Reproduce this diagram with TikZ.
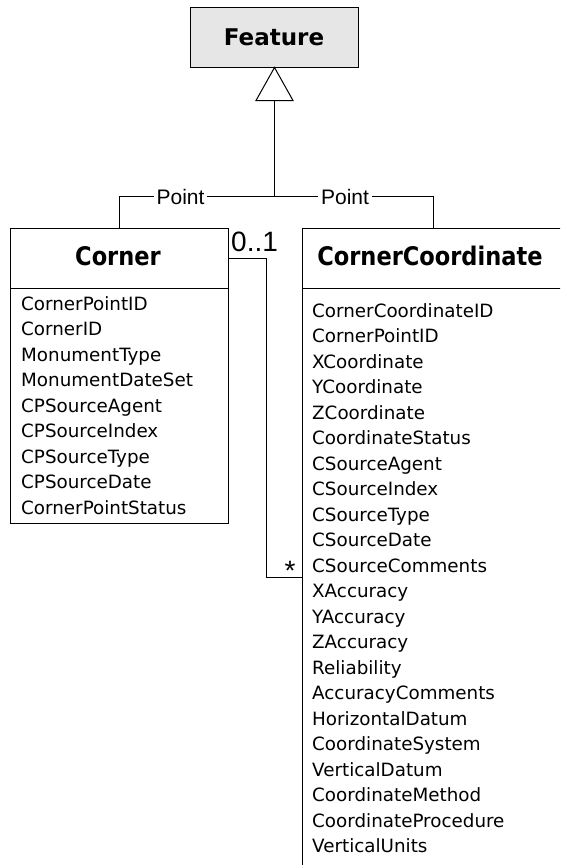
\documentclass[tikz,border=0pt]{standalone}
\usepackage{fontspec}
\setmainfont{DejaVu Sans}
\newfontfamily\titlefont[FakeStretch=0.88]{DejaVu Sans}
\newfontfamily\arialfont{Liberation Sans}
\definecolor{featgray}{HTML}{E6E6E6}
\begin{document}
\begin{tikzpicture}[x=1pt,y=-1pt,
  box/.style={draw=black, line width=1pt, inner sep=0pt, outer sep=0pt, anchor=north west},
  titletext/.style={font=\titlefont\bfseries\fontsize{25.6}{30}\selectfont, anchor=base, inner sep=0pt},
  feattext/.style={font=\bfseries\fontsize{23}{27}\selectfont, anchor=base, inner sep=0pt},
  attr/.style={font=\fontsize{18.3}{22}\selectfont, anchor=base west, inner sep=0pt},
  lbl/.style={font=\arialfont\fontsize{21}{25}\selectfont, fill=white, inner xsep=3pt, inner ysep=1pt, anchor=base},
  mult/.style={font=\arialfont\fontsize{28}{32}\selectfont, anchor=base west, inner sep=0pt},
  conn/.style={draw=black, line width=1pt}]
\useasboundingbox (0,0) rectangle (560,865);
\clip (0,0) rectangle (560,865);

% Feature
\node[box, fill=featgray, minimum width=168pt, minimum height=60pt] (feature) at (190.5,7.5) {};
\node[feattext] (featuret) at (274,45) {Feature};

% Corner
\node[box, minimum width=218pt, minimum height=295pt] (corner) at (10.5,228.5) {};
\draw[conn] ([yshift=-60pt]corner.north west) -- ([yshift=-60pt]corner.north east);
\node[titletext] (cornert) at (118,265) {Corner};
\foreach \t [count=\i] in {CornerPointID,CornerID,MonumentType,MonumentDateSet,CPSourceAgent,CPSourceIndex,CPSourceType,CPSourceDate,CornerPointStatus}
  \node[attr] (ca\i) at (21,{310+25.5*(\i-1)}) {\t};

% CornerCoordinate
\node[box, minimum width=262pt, minimum height=700pt] (cc) at (302.5,228.5) {};
\draw[conn] ([yshift=-60pt]cc.north west) -- ([yshift=-60pt]cc.north east);
\node[titletext] (cct) at (430,265) {CornerCoordinate};
\foreach \t [count=\i] in {CornerCoordinateID,CornerPointID,XCoordinate,YCoordinate,ZCoordinate,CoordinateStatus,CSourceAgent,CSourceIndex,CSourceType,CSourceDate,CSourceComments,XAccuracy,YAccuracy,ZAccuracy,Reliability,AccuracyComments,HorizontalDatum,CoordinateSystem,VerticalDatum,CoordinateMethod,CoordinateProcedure,VerticalUnits}
  \node[attr] (cca\i) at (312,{317+25.5*(\i-1)}) {\t};

% Generalization
\coordinate (tbase) at ([yshift=-33pt]feature.south);
\coordinate (junc) at (274.5,196.5);
\draw[conn] (tbase) -- (junc);
\draw[conn] (corner.north) |- (junc) -| (cc.north);
\draw[conn, fill=white] (feature.south) -- ++(-18.5,33) -- ++(37,0) -- cycle;
\node[lbl] (p1) at (180.5,204) {Point};
\node[lbl] (p2) at (345,204) {Point};

% Association
\coordinate (a1) at ([yshift=-30pt]corner.north east);
\coordinate (a2) at ([yshift=-349pt]cc.north west);
\draw[conn] (a1) -- ++(38,0) |- (a2);
\node[mult] (m1) at (231,251) {0..1};
\node[mult, anchor=base] (m2) at (290,580) {*};
\end{tikzpicture}
\end{document}
